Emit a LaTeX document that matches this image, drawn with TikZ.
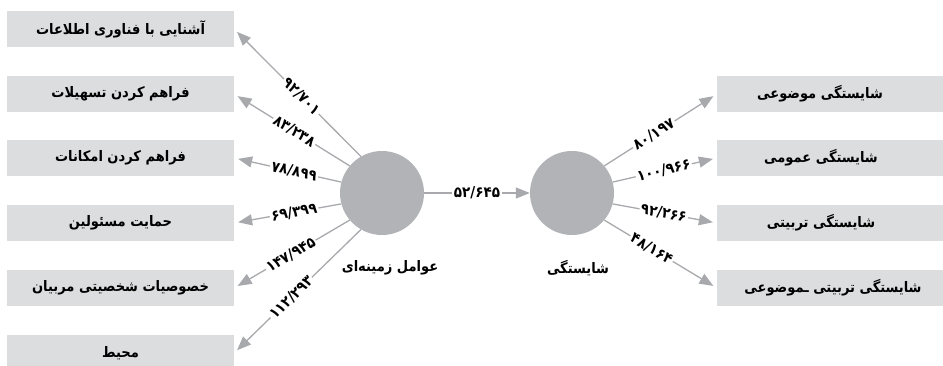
\documentclass[tikz,border=0pt]{standalone}
\usepackage{fontspec}
\usepackage{xcolor}
\usepackage{tikz}
\usetikzlibrary{arrows.meta}
\TeXXeTstate=1
\newfontfamily\farsi[Script=Arabic]{DejaVu Sans Condensed}
\definecolor{boxgray}{HTML}{DCDDDE}
\definecolor{circgray}{HTML}{B1B3B6}
\definecolor{linegray}{HTML}{A7A9AC}

\tikzset{
  factor/.style={fill=boxgray, minimum width=227pt, minimum height=36pt, inner sep=0pt},
  boxtext/.style={font=\farsi\bfseries\fontsize{14.5}{16}\selectfont},
  latent/.style={circle, fill=circgray, minimum size=84pt, inner sep=0pt},
  link/.style={draw=linegray, line width=1.3pt, -{Triangle[length=14pt,width=11pt]}, shorten >=4pt},
  val/.style={sloped, fill=white, inner sep=1.5pt, font=\farsi\bfseries\fontsize{15}{17}\selectfont}
}

\begin{document}
\begin{tikzpicture}[x=1pt,y=-1pt]
		\useasboundingbox (0,0) rectangle (943,366);
		% latent variables
		\node[latent] (lc) at (382,193) {};
		\node[latent] (rc) at (572,193) {};
		\node[boxtext] (lct) at (390,268) {\beginR عوامل زمینه‌ای\endR};
		\node[boxtext] (rct) at (578,268) {\beginR شایستگی\endR};
		% contextual factors
		\node[factor, boxtext] (f1) at (120.5,29) {\beginR آشنایی با فناوری اطلاعات\endR};
		\node[factor, boxtext] (f2) at (120.5,94) {\beginR فراهم کردن تسهیلات\endR};
		\node[factor, boxtext] (f3) at (120.5,158) {\beginR فراهم کردن امکانات\endR};
		\node[factor, boxtext] (f4) at (120.5,223) {\beginR حمایت مسئولین\endR};
		\node[factor, boxtext] (f5) at (120.5,288) {\beginR خصوصیات شخصیتی مربیان\endR};
		\node[factor, boxtext] (f6) at (120.5,353) {\beginR محیط\endR};
		% competency dimensions
		\node[factor] (r1) at (830.5,94) {};
		\node[factor] (r2) at (830.5,158) {};
		\node[factor] (r3) at (830.5,223) {};
		\node[factor] (r4) at (830.5,288) {};
		\node[boxtext] (r1t) at (820,94) {\beginR شایستگی موضوعی\endR};
		\node[boxtext] (r2t) at (821,158) {\beginR شایستگی عمومی\endR};
		\node[boxtext] (r3t) at (821,223) {\beginR شایستگی تربیتی\endR};
		\node[boxtext] (r4t) at (833,288) {\beginR شایستگی تربیتی ـموضوعی\endR};
		% paths
		\draw[link] (lc.120) -- node[val, pos=0.47] {۹۲/۷۰۱} (f1.east);
		\draw[link] (lc.140) -- node[val, pos=0.48] {۸۳/۲۳۸} (f2.east);
		\draw[link] (lc.165) -- node[val, pos=0.44] {۷۸/۸۹۹} (f3.east);
		\draw[link] (lc.195) -- node[val, pos=0.44] {۶۹/۳۹۹} (f4.east);
		\draw[link] (lc.220) -- node[val, pos=0.51] {۱۴۷/۹۴۵} (f5.east);
		\draw[link] (lc.240) -- node[val, pos=0.55] {۱۱۲/۲۹۳} (f6.east);
		\draw[link, shorten >=0pt] (lc) -- node[val] {۵۲/۶۴۵} (rc);
		\draw[link] (rc.40) -- node[val, pos=0.44] {۸۰/۱۹۷} (r1.west);
		\draw[link] (rc.15) -- node[val, pos=0.49] {۱۰۰/۹۶۶} (r2.west);
		\draw[link] (rc.-15) -- node[val, pos=0.49] {۹۲/۲۶۶} (r3.west);
		\draw[link] (rc.-40) -- node[val, pos=0.42] {۴۸/۱۶۴} (r4.west);
	\end{tikzpicture}
\end{document}
